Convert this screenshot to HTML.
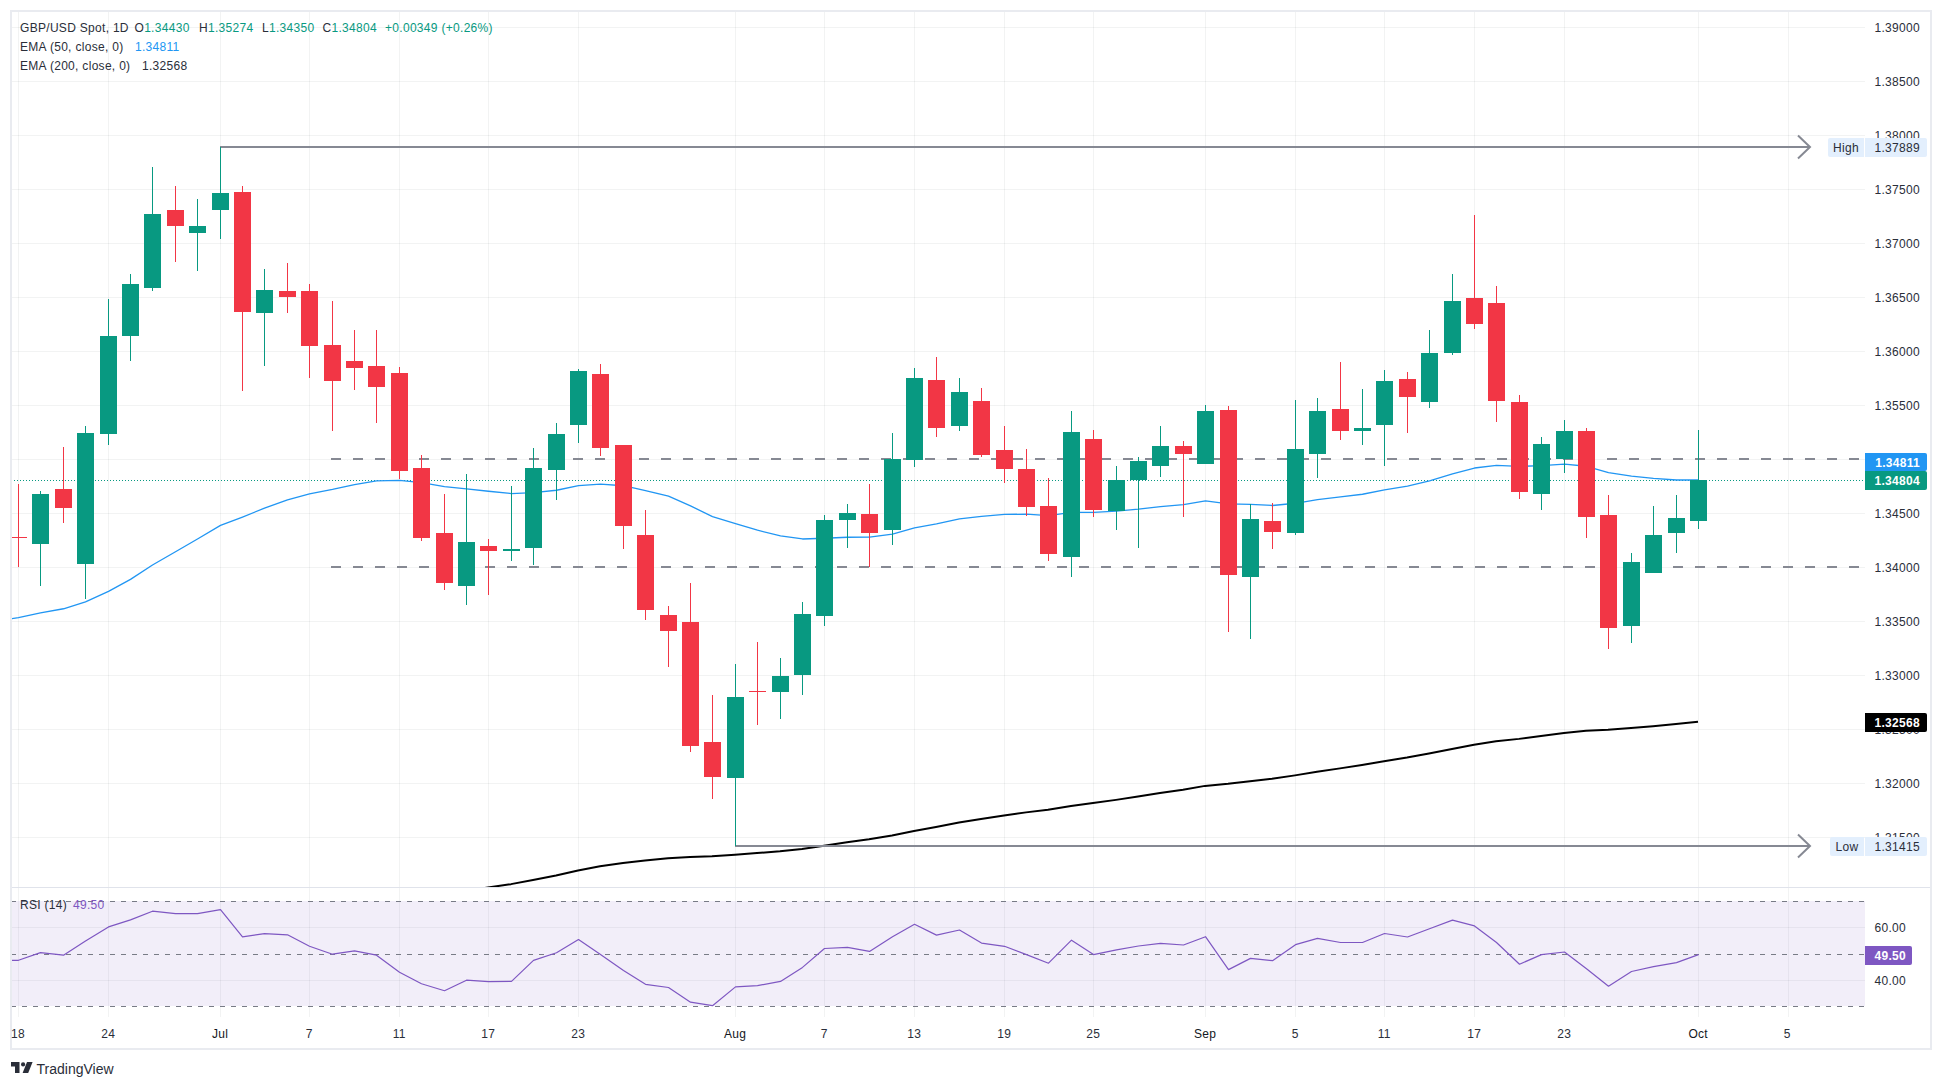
<!DOCTYPE html><html><head><meta charset="utf-8"><title>GBP/USD Chart</title><style>html,body{margin:0;padding:0;background:#fff;width:1942px;height:1088px;overflow:hidden}svg{display:block}svg text{letter-spacing:0.3px}</style></head><body><svg width="1942" height="1088" viewBox="0 0 1942 1088"><rect x="0" y="0" width="1942" height="1088" fill="#ffffff"/><defs><clipPath id="cm"><rect x="12" y="12" width="1853" height="875"/></clipPath><clipPath id="cr"><rect x="12" y="888" width="1853" height="129"/></clipPath></defs><g fill="#2a2e39" fill-opacity="0.06" shape-rendering="crispEdges"><rect x="18" y="12" width="1" height="875"/><rect x="18" y="888" width="1" height="129"/><rect x="108" y="12" width="1" height="875"/><rect x="108" y="888" width="1" height="129"/><rect x="220" y="12" width="1" height="875"/><rect x="220" y="888" width="1" height="129"/><rect x="309" y="12" width="1" height="875"/><rect x="309" y="888" width="1" height="129"/><rect x="399" y="12" width="1" height="875"/><rect x="399" y="888" width="1" height="129"/><rect x="488" y="12" width="1" height="875"/><rect x="488" y="888" width="1" height="129"/><rect x="578" y="12" width="1" height="875"/><rect x="578" y="888" width="1" height="129"/><rect x="735" y="12" width="1" height="875"/><rect x="735" y="888" width="1" height="129"/><rect x="824" y="12" width="1" height="875"/><rect x="824" y="888" width="1" height="129"/><rect x="914" y="12" width="1" height="875"/><rect x="914" y="888" width="1" height="129"/><rect x="1004" y="12" width="1" height="875"/><rect x="1004" y="888" width="1" height="129"/><rect x="1093" y="12" width="1" height="875"/><rect x="1093" y="888" width="1" height="129"/><rect x="1205" y="12" width="1" height="875"/><rect x="1205" y="888" width="1" height="129"/><rect x="1295" y="12" width="1" height="875"/><rect x="1295" y="888" width="1" height="129"/><rect x="1384" y="12" width="1" height="875"/><rect x="1384" y="888" width="1" height="129"/><rect x="1474" y="12" width="1" height="875"/><rect x="1474" y="888" width="1" height="129"/><rect x="1564" y="12" width="1" height="875"/><rect x="1564" y="888" width="1" height="129"/><rect x="1698" y="12" width="1" height="875"/><rect x="1698" y="888" width="1" height="129"/><rect x="1788" y="12" width="1" height="875"/><rect x="1788" y="888" width="1" height="129"/><rect x="12" y="27" width="1853" height="1"/><rect x="12" y="81" width="1853" height="1"/><rect x="12" y="135" width="1853" height="1"/><rect x="12" y="189" width="1853" height="1"/><rect x="12" y="243" width="1853" height="1"/><rect x="12" y="297" width="1853" height="1"/><rect x="12" y="351" width="1853" height="1"/><rect x="12" y="405" width="1853" height="1"/><rect x="12" y="459" width="1853" height="1"/><rect x="12" y="513" width="1853" height="1"/><rect x="12" y="567" width="1853" height="1"/><rect x="12" y="621" width="1853" height="1"/><rect x="12" y="675" width="1853" height="1"/><rect x="12" y="729" width="1853" height="1"/><rect x="12" y="783" width="1853" height="1"/><rect x="12" y="837" width="1853" height="1"/><rect x="12" y="927" width="1853" height="1"/><rect x="12" y="980" width="1853" height="1"/></g><rect x="12" y="901" width="1853" height="105" fill="#7e57c2" fill-opacity="0.1" shape-rendering="crispEdges"/><line clip-path="url(#cr)" x1="11" y1="901.5" x2="1865" y2="901.5" stroke="#787b86" stroke-width="1" stroke-dasharray="5 6" shape-rendering="crispEdges"/><line clip-path="url(#cr)" x1="11" y1="954.5" x2="1865" y2="954.5" stroke="#787b86" stroke-width="1" stroke-dasharray="5 6" shape-rendering="crispEdges"/><line clip-path="url(#cr)" x1="11" y1="1006.5" x2="1865" y2="1006.5" stroke="#787b86" stroke-width="1" stroke-dasharray="5 6" shape-rendering="crispEdges"/><g clip-path="url(#cm)"><line x1="331" y1="459" x2="1865" y2="459" stroke="#868993" stroke-width="2" stroke-dasharray="10 12" shape-rendering="crispEdges"/><line x1="331" y1="567" x2="1865" y2="567" stroke="#868993" stroke-width="2" stroke-dasharray="10 12" shape-rendering="crispEdges"/><line x1="11" y1="480.5" x2="1865" y2="480.5" stroke="#089981" stroke-width="1" stroke-dasharray="1 2" shape-rendering="crispEdges"/><polyline points="-4.0,1010.00 18.0,1005.30 40.0,1000.21 63.0,995.31 85.0,989.72 108.0,983.21 130.0,976.26 152.0,968.67 175.0,961.28 197.0,953.97 220.0,946.39 242.0,940.08 264.0,933.61 287.0,927.28 309.0,921.49 332.0,916.12 354.0,910.66 376.0,905.45 399.0,901.13 421.0,897.52 444.0,894.39 466.0,890.88 488.0,887.50 511.0,884.14 533.0,880.00 556.0,875.56 578.0,870.54 600.0,866.34 623.0,862.95 645.0,860.43 668.0,858.15 690.0,857.03 712.0,856.24 735.0,854.65 757.0,853.03 780.0,851.27 802.0,848.91 824.0,845.64 847.0,842.33 869.0,839.25 892.0,835.46 914.0,830.91 936.0,826.90 959.0,822.58 981.0,818.92 1004.0,815.44 1026.0,812.37 1048.0,809.80 1071.0,806.04 1093.0,803.09 1116.0,799.88 1138.0,796.50 1160.0,793.02 1183.0,789.64 1205.0,785.88 1228.0,783.78 1250.0,781.14 1272.0,778.66 1295.0,775.38 1317.0,771.76 1340.0,768.37 1362.0,764.98 1384.0,761.16 1407.0,757.54 1429.0,753.51 1452.0,749.01 1474.0,744.78 1496.0,741.36 1519.0,738.88 1541.0,735.94 1564.0,732.91 1586.0,730.76 1608.0,729.74 1631.0,728.07 1653.0,726.15 1676.0,724.08 1698.0,721.65" fill="none" stroke="#000000" stroke-width="2" stroke-linejoin="round"/><polyline points="-3.5,621.00 18.5,617.73 40.5,612.87 63.5,608.76 85.5,601.87 108.5,591.44 130.5,579.39 152.5,565.06 175.5,551.76 197.5,538.99 220.5,525.42 242.5,517.05 264.5,508.14 287.5,499.86 309.5,493.83 332.5,489.41 354.5,484.64 376.5,480.82 399.5,480.43 421.5,482.69 444.5,486.62 466.5,488.79 488.5,491.23 511.5,493.54 533.5,492.54 556.5,490.24 578.5,485.56 600.5,484.09 623.5,485.73 645.5,490.61 668.5,496.11 690.5,505.91 712.5,516.54 735.5,523.62 757.5,530.20 780.5,535.92 802.5,538.98 824.5,538.24 847.5,537.25 869.5,537.08 892.5,534.02 914.5,527.90 936.5,523.98 959.5,518.81 981.5,516.31 1004.5,514.45 1026.5,514.16 1048.5,515.72 1071.5,512.44 1093.5,512.34 1116.5,511.07 1138.5,509.11 1160.5,506.64 1183.5,504.57 1205.5,500.90 1228.5,503.81 1250.5,504.40 1272.5,505.49 1295.5,503.27 1317.5,499.65 1340.5,496.96 1362.5,494.26 1384.5,489.81 1407.5,486.17 1429.5,480.95 1452.5,473.89 1474.5,468.02 1496.5,465.39 1519.5,466.43 1541.5,465.55 1564.5,464.20 1586.5,466.27 1608.5,472.61 1631.5,476.12 1653.5,478.43 1676.5,479.98 1698.5,479.98" fill="none" stroke="#2196f3" stroke-width="1.3" stroke-linejoin="round"/><rect x="220" y="146" width="1590" height="2" fill="#868993" shape-rendering="crispEdges"/><rect x="735" y="845" width="1075" height="2" fill="#868993" shape-rendering="crispEdges"/><polyline points="1798,135.5 1810,147 1798,158.5" fill="none" stroke="#868993" stroke-width="2"/><polyline points="1798,834.5 1810,846 1798,857.5" fill="none" stroke="#868993" stroke-width="2"/><g shape-rendering="crispEdges"><rect x="18" y="484" width="1" height="83" fill="#f23645"/><rect x="10" y="537" width="17" height="1" fill="#f23645"/><rect x="40" y="491" width="1" height="95" fill="#089981"/><rect x="32" y="494" width="17" height="50" fill="#089981"/><rect x="63" y="447" width="1" height="76" fill="#f23645"/><rect x="55" y="489" width="17" height="19" fill="#f23645"/><rect x="85" y="426" width="1" height="173" fill="#089981"/><rect x="77" y="433" width="17" height="131" fill="#089981"/><rect x="108" y="299" width="1" height="146" fill="#089981"/><rect x="100" y="336" width="17" height="98" fill="#089981"/><rect x="130" y="274" width="1" height="87" fill="#089981"/><rect x="122" y="284" width="17" height="52" fill="#089981"/><rect x="152" y="167" width="1" height="124" fill="#089981"/><rect x="144" y="214" width="17" height="74" fill="#089981"/><rect x="175" y="186" width="1" height="76" fill="#f23645"/><rect x="167" y="210" width="17" height="16" fill="#f23645"/><rect x="197" y="199" width="1" height="72" fill="#089981"/><rect x="189" y="226" width="17" height="7" fill="#089981"/><rect x="220" y="147" width="1" height="92" fill="#089981"/><rect x="212" y="193" width="17" height="17" fill="#089981"/><rect x="242" y="186" width="1" height="205" fill="#f23645"/><rect x="234" y="192" width="17" height="120" fill="#f23645"/><rect x="264" y="269" width="1" height="97" fill="#089981"/><rect x="256" y="290" width="17" height="23" fill="#089981"/><rect x="287" y="263" width="1" height="50" fill="#f23645"/><rect x="279" y="291" width="17" height="6" fill="#f23645"/><rect x="309" y="284" width="1" height="94" fill="#f23645"/><rect x="301" y="291" width="17" height="55" fill="#f23645"/><rect x="332" y="301" width="1" height="130" fill="#f23645"/><rect x="324" y="345" width="17" height="36" fill="#f23645"/><rect x="354" y="330" width="1" height="60" fill="#f23645"/><rect x="346" y="361" width="17" height="7" fill="#f23645"/><rect x="376" y="330" width="1" height="93" fill="#f23645"/><rect x="368" y="366" width="17" height="21" fill="#f23645"/><rect x="399" y="367" width="1" height="112" fill="#f23645"/><rect x="391" y="373" width="17" height="98" fill="#f23645"/><rect x="421" y="455" width="1" height="86" fill="#f23645"/><rect x="413" y="468" width="17" height="70" fill="#f23645"/><rect x="444" y="494" width="1" height="96" fill="#f23645"/><rect x="436" y="533" width="17" height="50" fill="#f23645"/><rect x="466" y="474" width="1" height="131" fill="#089981"/><rect x="458" y="542" width="17" height="44" fill="#089981"/><rect x="488" y="539" width="1" height="56" fill="#f23645"/><rect x="480" y="546" width="17" height="5" fill="#f23645"/><rect x="511" y="486" width="1" height="75" fill="#089981"/><rect x="503" y="549" width="17" height="2" fill="#089981"/><rect x="533" y="448" width="1" height="117" fill="#089981"/><rect x="525" y="468" width="17" height="80" fill="#089981"/><rect x="556" y="423" width="1" height="77" fill="#089981"/><rect x="548" y="434" width="17" height="36" fill="#089981"/><rect x="578" y="369" width="1" height="74" fill="#089981"/><rect x="570" y="371" width="17" height="54" fill="#089981"/><rect x="600" y="364" width="1" height="92" fill="#f23645"/><rect x="592" y="374" width="17" height="74" fill="#f23645"/><rect x="623" y="445" width="1" height="104" fill="#f23645"/><rect x="615" y="445" width="17" height="81" fill="#f23645"/><rect x="645" y="510" width="1" height="110" fill="#f23645"/><rect x="637" y="535" width="17" height="75" fill="#f23645"/><rect x="668" y="606" width="1" height="61" fill="#f23645"/><rect x="660" y="615" width="17" height="16" fill="#f23645"/><rect x="690" y="583" width="1" height="169" fill="#f23645"/><rect x="682" y="622" width="17" height="124" fill="#f23645"/><rect x="712" y="695" width="1" height="104" fill="#f23645"/><rect x="704" y="742" width="17" height="35" fill="#f23645"/><rect x="735" y="664" width="1" height="182" fill="#089981"/><rect x="727" y="697" width="17" height="81" fill="#089981"/><rect x="757" y="642" width="1" height="83" fill="#f23645"/><rect x="749" y="691" width="17" height="1" fill="#f23645"/><rect x="780" y="658" width="1" height="61" fill="#089981"/><rect x="772" y="676" width="17" height="16" fill="#089981"/><rect x="802" y="602" width="1" height="93" fill="#089981"/><rect x="794" y="614" width="17" height="61" fill="#089981"/><rect x="824" y="515" width="1" height="111" fill="#089981"/><rect x="816" y="520" width="17" height="96" fill="#089981"/><rect x="847" y="504" width="1" height="44" fill="#089981"/><rect x="839" y="513" width="17" height="7" fill="#089981"/><rect x="869" y="484" width="1" height="83" fill="#f23645"/><rect x="861" y="514" width="17" height="19" fill="#f23645"/><rect x="892" y="433" width="1" height="112" fill="#089981"/><rect x="884" y="459" width="17" height="71" fill="#089981"/><rect x="914" y="368" width="1" height="99" fill="#089981"/><rect x="906" y="378" width="17" height="82" fill="#089981"/><rect x="936" y="357" width="1" height="80" fill="#f23645"/><rect x="928" y="380" width="17" height="48" fill="#f23645"/><rect x="959" y="378" width="1" height="53" fill="#089981"/><rect x="951" y="392" width="17" height="34" fill="#089981"/><rect x="981" y="388" width="1" height="69" fill="#f23645"/><rect x="973" y="401" width="17" height="54" fill="#f23645"/><rect x="1004" y="426" width="1" height="57" fill="#f23645"/><rect x="996" y="450" width="17" height="19" fill="#f23645"/><rect x="1026" y="449" width="1" height="67" fill="#f23645"/><rect x="1018" y="469" width="17" height="38" fill="#f23645"/><rect x="1048" y="478" width="1" height="83" fill="#f23645"/><rect x="1040" y="506" width="17" height="48" fill="#f23645"/><rect x="1071" y="411" width="1" height="166" fill="#089981"/><rect x="1063" y="432" width="17" height="125" fill="#089981"/><rect x="1093" y="430" width="1" height="87" fill="#f23645"/><rect x="1085" y="439" width="17" height="71" fill="#f23645"/><rect x="1116" y="466" width="1" height="64" fill="#089981"/><rect x="1108" y="480" width="17" height="31" fill="#089981"/><rect x="1138" y="457" width="1" height="91" fill="#089981"/><rect x="1130" y="461" width="17" height="19" fill="#089981"/><rect x="1160" y="426" width="1" height="51" fill="#089981"/><rect x="1152" y="446" width="17" height="20" fill="#089981"/><rect x="1183" y="441" width="1" height="76" fill="#f23645"/><rect x="1175" y="446" width="17" height="8" fill="#f23645"/><rect x="1205" y="405" width="1" height="59" fill="#089981"/><rect x="1197" y="411" width="17" height="53" fill="#089981"/><rect x="1228" y="406" width="1" height="226" fill="#f23645"/><rect x="1220" y="410" width="17" height="165" fill="#f23645"/><rect x="1250" y="504" width="1" height="135" fill="#089981"/><rect x="1242" y="519" width="17" height="58" fill="#089981"/><rect x="1272" y="503" width="1" height="46" fill="#f23645"/><rect x="1264" y="521" width="17" height="11" fill="#f23645"/><rect x="1295" y="400" width="1" height="135" fill="#089981"/><rect x="1287" y="449" width="17" height="84" fill="#089981"/><rect x="1317" y="398" width="1" height="80" fill="#089981"/><rect x="1309" y="411" width="17" height="43" fill="#089981"/><rect x="1340" y="362" width="1" height="78" fill="#f23645"/><rect x="1332" y="409" width="17" height="22" fill="#f23645"/><rect x="1362" y="389" width="1" height="56" fill="#089981"/><rect x="1354" y="428" width="17" height="3" fill="#089981"/><rect x="1384" y="370" width="1" height="96" fill="#089981"/><rect x="1376" y="381" width="17" height="44" fill="#089981"/><rect x="1407" y="372" width="1" height="61" fill="#f23645"/><rect x="1399" y="379" width="17" height="18" fill="#f23645"/><rect x="1429" y="330" width="1" height="78" fill="#089981"/><rect x="1421" y="353" width="17" height="49" fill="#089981"/><rect x="1452" y="274" width="1" height="81" fill="#089981"/><rect x="1444" y="301" width="17" height="52" fill="#089981"/><rect x="1474" y="215" width="1" height="114" fill="#f23645"/><rect x="1466" y="298" width="17" height="26" fill="#f23645"/><rect x="1496" y="286" width="1" height="136" fill="#f23645"/><rect x="1488" y="303" width="17" height="98" fill="#f23645"/><rect x="1519" y="395" width="1" height="104" fill="#f23645"/><rect x="1511" y="402" width="17" height="90" fill="#f23645"/><rect x="1541" y="437" width="1" height="73" fill="#089981"/><rect x="1533" y="444" width="17" height="50" fill="#089981"/><rect x="1564" y="420" width="1" height="53" fill="#089981"/><rect x="1556" y="431" width="17" height="28" fill="#089981"/><rect x="1586" y="428" width="1" height="110" fill="#f23645"/><rect x="1578" y="431" width="17" height="86" fill="#f23645"/><rect x="1608" y="495" width="1" height="154" fill="#f23645"/><rect x="1600" y="515" width="17" height="113" fill="#f23645"/><rect x="1631" y="553" width="1" height="90" fill="#089981"/><rect x="1623" y="562" width="17" height="64" fill="#089981"/><rect x="1653" y="506" width="1" height="67" fill="#089981"/><rect x="1645" y="535" width="17" height="38" fill="#089981"/><rect x="1676" y="495" width="1" height="58" fill="#089981"/><rect x="1668" y="518" width="17" height="15" fill="#089981"/><rect x="1698" y="430" width="1" height="99" fill="#089981"/><rect x="1690" y="480" width="17" height="41" fill="#089981"/></g></g><g clip-path="url(#cr)"><polyline points="-3.5,960.3 18.5,960.3 40.5,952.6 63.5,955.2 85.5,941.0 108.5,926.9 130.5,919.9 152.5,911.2 175.5,913.7 197.5,913.7 220.5,909.6 242.5,936.9 264.5,933.6 287.5,934.8 309.5,946.2 332.5,954.2 354.5,950.8 376.5,955.2 399.5,972.2 421.5,983.8 444.5,990.7 466.5,980.2 488.5,981.7 511.5,981.4 533.5,960.4 556.5,952.7 578.5,939.6 600.5,954.6 623.5,970.6 645.5,984.3 668.5,987.5 690.5,1002.2 712.5,1005.7 735.5,986.9 757.5,985.6 780.5,981.4 802.5,967.4 824.5,948.5 847.5,947.3 869.5,951.4 892.5,936.7 914.5,924.3 936.5,935.1 959.5,930.0 981.5,943.1 1004.5,946.3 1026.5,954.6 1048.5,963.2 1071.5,940.2 1093.5,954.6 1116.5,949.8 1138.5,946.0 1160.5,943.4 1183.5,945.0 1205.5,936.7 1228.5,969.6 1250.5,958.4 1272.5,960.7 1295.5,944.7 1317.5,938.3 1340.5,942.5 1362.5,942.5 1384.5,933.5 1407.5,937.0 1429.5,928.7 1452.5,920.1 1474.5,925.9 1496.5,942.5 1519.5,964.2 1541.5,954.6 1564.5,952.0 1586.5,968.7 1608.5,986.2 1631.5,971.5 1653.5,966.7 1676.5,962.6 1698.5,954.6" fill="none" stroke="#7e57c2" stroke-width="1.2" stroke-linejoin="round"/></g><rect x="12" y="887" width="1918" height="1" fill="#e0e3eb" shape-rendering="crispEdges"/><rect x="11" y="11" width="1920" height="1038" fill="none" stroke="#e9ebf0" stroke-width="2" shape-rendering="crispEdges"/><g font-family="Liberation Sans, sans-serif" font-size="12" fill="#2a2e39"><text x="1920" y="31.5" text-anchor="end">1.39000</text><text x="1920" y="85.5" text-anchor="end">1.38500</text><text x="1920" y="139.5" text-anchor="end">1.38000</text><text x="1920" y="193.5" text-anchor="end">1.37500</text><text x="1920" y="247.5" text-anchor="end">1.37000</text><text x="1920" y="301.5" text-anchor="end">1.36500</text><text x="1920" y="355.5" text-anchor="end">1.36000</text><text x="1920" y="409.5" text-anchor="end">1.35500</text><text x="1920" y="463.5" text-anchor="end">1.35000</text><text x="1920" y="517.5" text-anchor="end">1.34500</text><text x="1920" y="571.5" text-anchor="end">1.34000</text><text x="1920" y="625.5" text-anchor="end">1.33500</text><text x="1920" y="679.5" text-anchor="end">1.33000</text><text x="1920" y="733.5" text-anchor="end">1.32500</text><text x="1920" y="787.5" text-anchor="end">1.32000</text><text x="1920" y="841.5" text-anchor="end">1.31500</text></g><path d="M1830,138 L1864,138 Q1864,138 1864,138 L1864,157 Q1864,157 1864,157 L1830,157 Q1828,157 1828,155 L1828,140 Q1828,138 1830,138 Z" fill="#e3effd"/><path d="M1865,138 L1925,138 Q1927,138 1927,140 L1927,155 Q1927,157 1925,157 L1865,157 Q1865,157 1865,157 L1865,138 Q1865,138 1865,138 Z" fill="#e3effd"/><path d="M1832,837 L1864,837 Q1864,837 1864,837 L1864,856 Q1864,856 1864,856 L1832,856 Q1830,856 1830,854 L1830,839 Q1830,837 1832,837 Z" fill="#e3effd"/><path d="M1865,837 L1925,837 Q1927,837 1927,839 L1927,854 Q1927,856 1925,856 L1865,856 Q1865,856 1865,856 L1865,837 Q1865,837 1865,837 Z" fill="#e3effd"/><g font-family="Liberation Sans, sans-serif" font-size="12" fill="#2a2e39"><text x="1846" y="151.5" text-anchor="middle">High</text><text x="1920" y="151.5" text-anchor="end">1.37889</text><text x="1847" y="850.5" text-anchor="middle">Low</text><text x="1920" y="850.5" text-anchor="end">1.31415</text></g><path d="M1865,453 L1925,453 Q1927,453 1927,455 L1927,469 Q1927,471 1925,471 L1865,471 Q1865,471 1865,471 L1865,453 Q1865,453 1865,453 Z" fill="#2196f3"/><path d="M1865,471 L1925,471 Q1927,471 1927,473 L1927,488 Q1927,490 1925,490 L1865,490 Q1865,490 1865,490 L1865,471 Q1865,471 1865,471 Z" fill="#089981"/><path d="M1865,713 L1925,713 Q1927,713 1927,715 L1927,730 Q1927,732 1925,732 L1865,732 Q1865,732 1865,732 L1865,713 Q1865,713 1865,713 Z" fill="#000000"/><g font-family="Liberation Sans, sans-serif" font-size="12" font-weight="bold" fill="#ffffff"><text x="1920" y="466.5" text-anchor="end">1.34811</text><text x="1920" y="485" text-anchor="end">1.34804</text><text x="1920" y="727" text-anchor="end">1.32568</text></g><g font-family="Liberation Sans, sans-serif" font-size="12" fill="#2a2e39"><text x="1906" y="932" text-anchor="end">60.00</text><text x="1906" y="985" text-anchor="end">40.00</text></g><path d="M1865,946 L1910,946 Q1912,946 1912,948 L1912,963 Q1912,965 1910,965 L1865,965 Q1865,965 1865,965 L1865,946 Q1865,946 1865,946 Z" fill="#7e57c2"/><text x="1906" y="960" text-anchor="end" font-family="Liberation Sans, sans-serif" font-size="12" font-weight="bold" fill="#ffffff">49.50</text><g font-family="Liberation Sans, sans-serif" font-size="12" fill="#2a2e39"><text x="18" y="1038" text-anchor="middle">18</text><text x="108.2" y="1038" text-anchor="middle">24</text><text x="220.2" y="1038" text-anchor="middle" fill="#131722">Jul</text><text x="309.2" y="1038" text-anchor="middle">7</text><text x="399.2" y="1038" text-anchor="middle">11</text><text x="488.2" y="1038" text-anchor="middle">17</text><text x="578.2" y="1038" text-anchor="middle">23</text><text x="735.2" y="1038" text-anchor="middle" fill="#131722">Aug</text><text x="824.2" y="1038" text-anchor="middle">7</text><text x="914.2" y="1038" text-anchor="middle">13</text><text x="1004.2" y="1038" text-anchor="middle">19</text><text x="1093.2" y="1038" text-anchor="middle">25</text><text x="1205.2" y="1038" text-anchor="middle" fill="#131722">Sep</text><text x="1295.2" y="1038" text-anchor="middle">5</text><text x="1384.2" y="1038" text-anchor="middle">11</text><text x="1474.2" y="1038" text-anchor="middle">17</text><text x="1564.2" y="1038" text-anchor="middle">23</text><text x="1698.2" y="1038" text-anchor="middle" fill="#131722">Oct</text><text x="1787.2" y="1038" text-anchor="middle">5</text></g><g font-family="Liberation Sans, sans-serif" font-size="12" fill="#2a2e39"><text x="20" y="32">GBP/USD Spot, 1D</text><text x="134.5" y="32">O<tspan fill="#089981">1.34430</tspan></text><text x="199" y="32">H<tspan fill="#089981">1.35274</tspan></text><text x="262" y="32">L<tspan fill="#089981">1.34350</tspan></text><text x="322.5" y="32">C<tspan fill="#089981">1.34804</tspan></text><text x="385" y="32" fill="#089981">+0.00349 (+0.26%)</text><text x="20" y="51">EMA (50, close, 0)</text><text x="135" y="51" fill="#2196f3">1.34811</text><text x="20" y="70">EMA (200, close, 0)</text><text x="142" y="70">1.32568</text><text x="20" y="908.6">RSI (14)</text><text x="73" y="908.6" fill="#7e57c2">49.50</text></g><g fill="#2a2e39"><path d="M11,1062 H19.5 V1073 H15 V1066.5 H11 Z"/><circle cx="23.1" cy="1064.4" r="2.1"/><path d="M27,1062 H32.6 L28.2,1073 H22.6 Z"/></g><text x="36.5" y="1074" font-family="Liberation Sans, sans-serif" font-size="14" fill="#2a2e39" style="letter-spacing:0">TradingView</text></svg></body></html>
